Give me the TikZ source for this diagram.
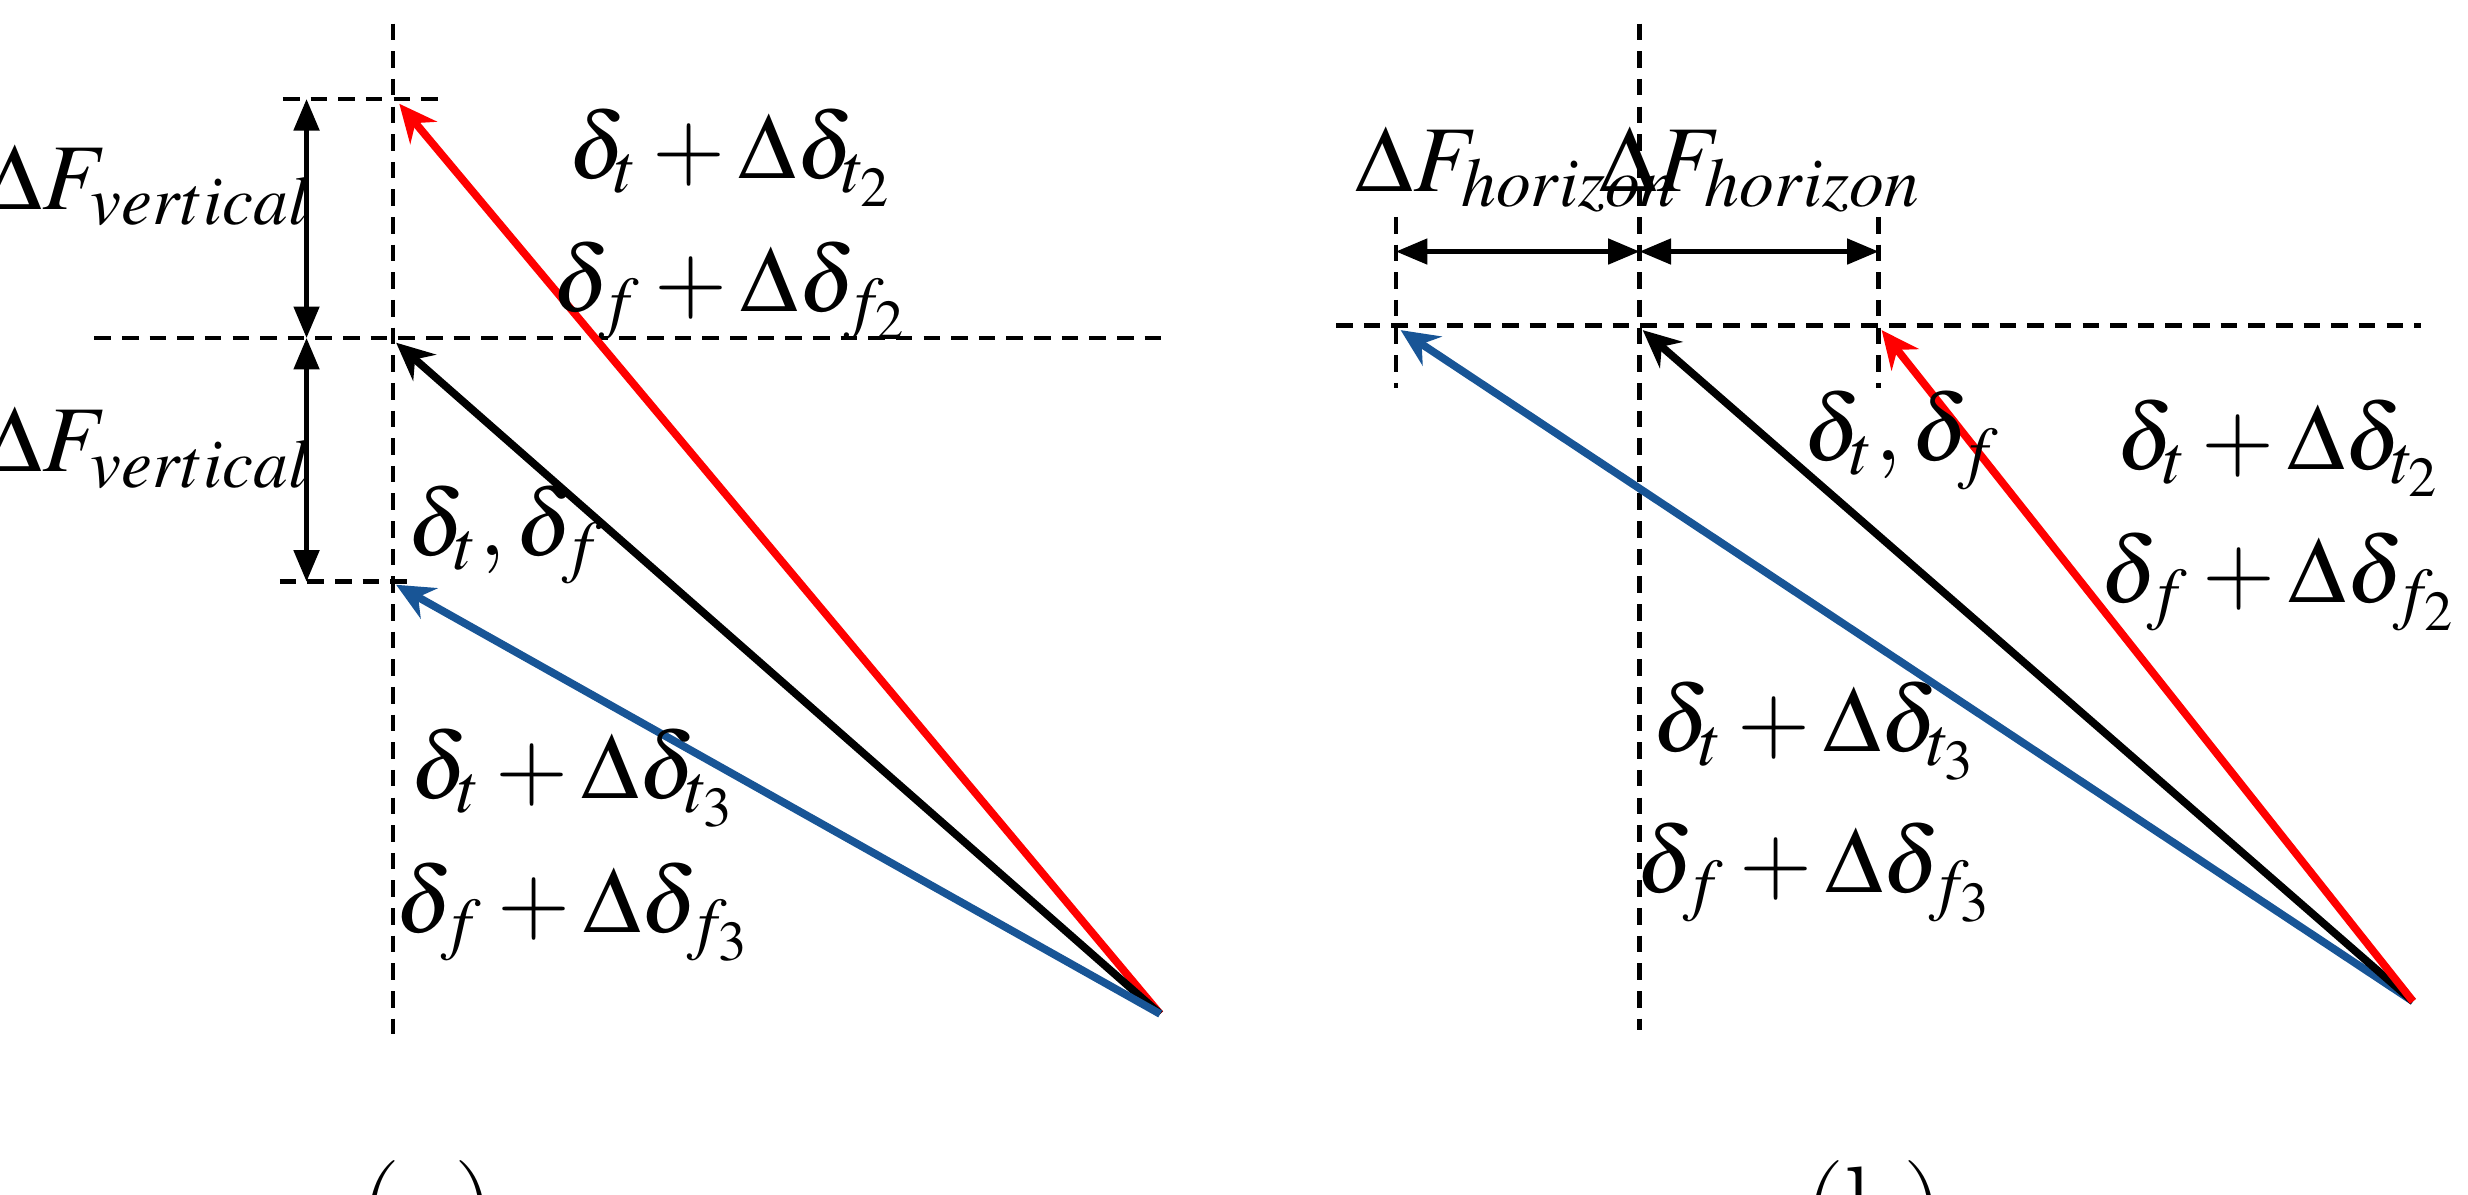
\documentclass[tikz,border=0pt]{standalone}
\usepackage{mathptmx}
\usetikzlibrary{arrows.meta}
\begin{document}
\begin{tikzpicture}[x=0.01cm,y=-0.01cm,
 dsh/.style={line width=0.8pt,dash pattern=on 3pt off 2pt},
 vec/.style={line width=1.4pt,-{Stealth[length=0.24cm,width=0.22cm,inset=0.08cm]}},
 dim/.style={line width=0.8pt,{Triangle[length=0.2cm,width=0.16cm]}-{Triangle[length=0.2cm,width=0.16cm]}},
 lab/.style={font=\fontsize{17}{20}\selectfont}]
\useasboundingbox (0,0) rectangle (1570,760);
% panel a
\draw[dsh] (250,15) -- (250,658);
\draw[dsh] (60,215) -- (740,215);
\draw[dsh] (180,63) -- (285,63);
\draw[dsh] (178,370) -- (260,370);
\coordinate (a1) at (195,63); \coordinate (a2) at (195,215); \coordinate (a3) at (195,370);
\draw[dim] (a1) -- (a2);
\draw[dim] (a2) -- (a3);
\node[lab] (fv1) at (95,118) {$\Delta F_{vertical}$};
\node[lab] (fv2) at (95,285) {$\Delta F_{vertical}$};
\coordinate (oa) at (738,645);
\coordinate (ra) at (254,66); \coordinate (ka) at (252,218); \coordinate (ba) at (252,372);
\draw[vec,red] (oa) -- (ra);
\draw[vec,black] (oa) -- (ka);
\draw[vec,color={rgb,255:red,24;green,85;blue,150}] (oa) -- (ba);
\node[lab] (l1) at (465,100) {$\delta_t+\Delta\delta_{t_2}$};
\node[lab] (l2) at (465,185) {$\delta_f+\Delta\delta_{f_2}$};
\node[lab] (l3) at (322,340) {$\delta_t,\delta_f$};
\node[lab] (l4) at (365,495) {$\delta_t+\Delta\delta_{t_3}$};
\node[lab] (l5) at (365,580) {$\delta_f+\Delta\delta_{f_3}$};
\node[font=\fontsize{21}{25}\selectfont] (ca) at (272,775) {(\textbf{a})};
% panel b
\draw[dsh] (1043,15) -- (1043,655);
\draw[dsh] (850,207) -- (1540,207);
\draw[dsh] (888,138) -- (888,247);
\draw[dsh] (1195,138) -- (1195,247);
\coordinate (b1) at (888,160); \coordinate (b2) at (1043,160); \coordinate (b3) at (1195,160);
\draw[dim] (b1) -- (b2);
\draw[dim] (b2) -- (b3);
\node[lab] (fh1) at (965,108) {$\Delta F_{horizon}$};
\node[lab] (fh2) at (1120,108) {$\Delta F_{horizon}$};
\coordinate (ob) at (1535,637);
\coordinate (bb) at (891,210); \coordinate (kb) at (1045,210); \coordinate (rb) at (1197,210);
\draw[vec,color={rgb,255:red,24;green,85;blue,150}] (ob) -- (bb);
\draw[vec,black] (ob) -- (kb);
\draw[vec,red] (ob) -- (rb);
\node[lab] (m3) at (1210,280) {$\delta_t,\delta_f$};
\node[lab] (m1) at (1450,285) {$\delta_t+\Delta\delta_{t_2}$};
\node[lab] (m2) at (1450,370) {$\delta_f+\Delta\delta_{f_2}$};
\node[lab] (m4) at (1155,465) {$\delta_t+\Delta\delta_{t_3}$};
\node[lab] (m5) at (1155,555) {$\delta_f+\Delta\delta_{f_3}$};
\node[font=\fontsize{21}{25}\selectfont] (cb) at (1192,775) {(\textbf{b})};
\end{tikzpicture}
\end{document}
